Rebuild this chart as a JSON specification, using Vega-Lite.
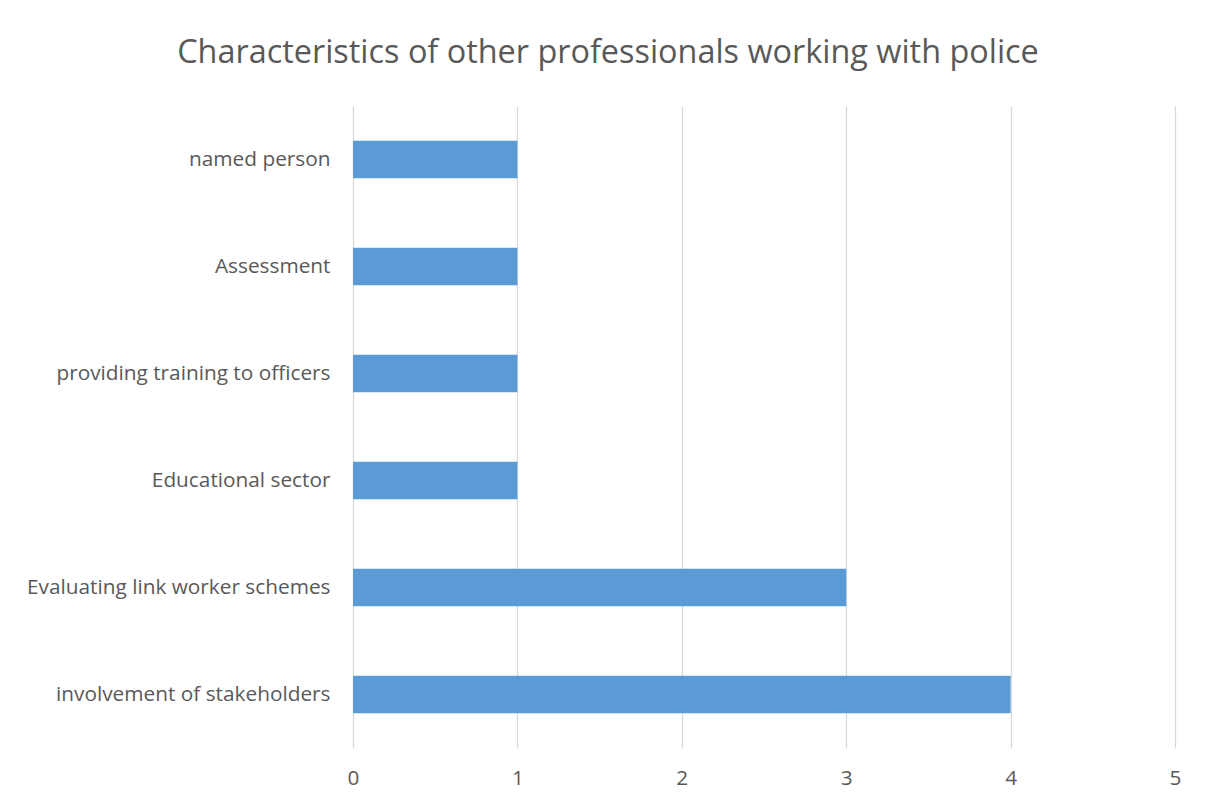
{
  "$schema": "https://vega.github.io/schema/vega-lite/v6.json",
  "autosize": {"type": "none"},
  "width": 822,
  "height": 642,
  "padding": {"left": 353, "top": 106, "right": 30, "bottom": 59},
  "background": "white",
  "title": {
    "text": "Characteristics of other professionals working with police",
    "anchor": "middle",
    "dx": -156,
    "offset": 37,
    "font": "Open Sans",
    "fontSize": 32.4,
    "fontWeight": "normal",
    "color": "#595959"
  },
  "data": {
    "values": [
      {"category": "named person", "count": 1},
      {"category": "Assessment", "count": 1},
      {"category": "providing training to officers", "count": 1},
      {"category": "Educational sector", "count": 1},
      {"category": "Evaluating link worker schemes", "count": 3},
      {"category": "involvement of stakeholders ", "count": 4}
    ]
  },
  "mark": {"type": "bar", "color": "#5b9bd5"},
  "encoding": {
    "y": {
      "field": "category",
      "type": "nominal",
      "sort": null,
      "scale": {"paddingInner": 0.65, "paddingOuter": 0.325},
      "axis": {
        "title": null,
        "domain": false,
        "ticks": false,
        "grid": false,
        "labelFont": "Open Sans",
        "labelFontSize": 20.8,
        "labelColor": "#595959",
        "labelPadding": 23,
        "labelLimit": 400
      }
    },
    "x": {
      "field": "count",
      "type": "quantitative",
      "scale": {"domain": [0, 5], "nice": false},
      "axis": {
        "title": null,
        "values": [0, 1, 2, 3, 4, 5],
        "domain": false,
        "ticks": false,
        "grid": true,
        "gridColor": "#d9d9d9",
        "gridWidth": 1.3,
        "labelFont": "Open Sans",
        "labelFontSize": 20.8,
        "labelColor": "#595959",
        "labelPadding": 20,
        "labelFlush": false
      }
    }
  },
  "config": {"view": {"stroke": null}}
}
